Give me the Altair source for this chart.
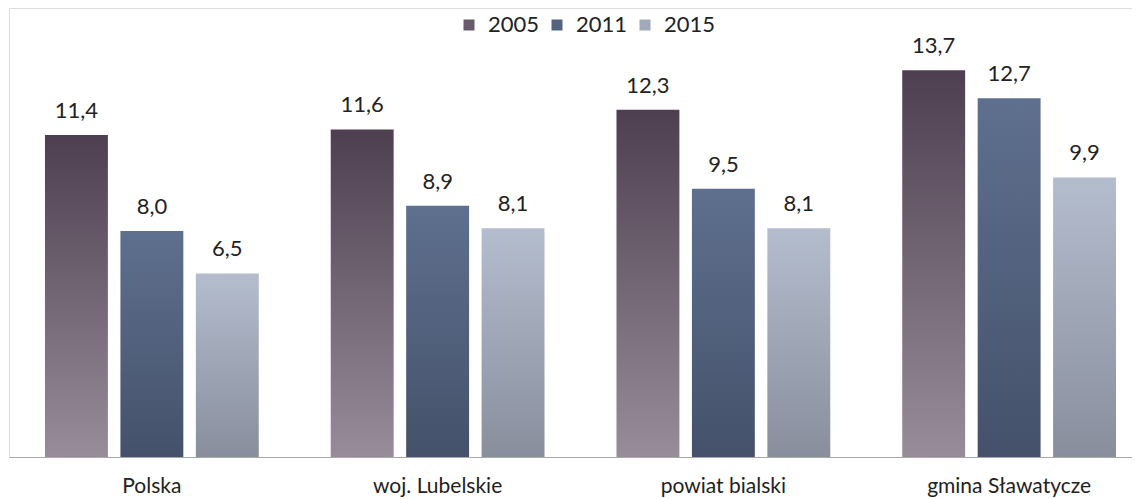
import altair as alt
import pandas as pd

categories = ["Polska", "woj. Lubelskie", "powiat bialski", "gmina Sławatycze"]
years = ["2005", "2011", "2015"]
v2005 = [11.4, 11.6, 12.3, 13.7]
v2011 = [8.0, 8.9, 9.5, 12.7]
v2015 = [6.5, 8.1, 8.1, 9.9]

rows = []
for yr, vals in zip(years, [v2005, v2011, v2015]):
    for c, v in zip(categories, vals):
        rows.append({"category": c, "year": yr, "value": v})
df = pd.DataFrame(rows)

grad_colors = {
    "2005": ("#4d3f4f", "#988b9a"),
    "2011": ("#5e708e", "#45516a"),
    "2015": ("#b4bdce", "#888e9c"),
}
legend_colors = ["#6a5b6c", "#536380", "#a1aab9"]

FONT = "Lato"

x_enc = alt.X("category:N", sort=categories,
              scale=alt.Scale(paddingInner=0, paddingOuter=0, range=[0, 1143]),
              axis=alt.Axis(title=None, labelAngle=0, ticks=False,
                            domainColor="#a8a8a8", domainWidth=1,
                            labelFontSize=21, labelFont=FONT, labelColor="#222222",
                            labelPadding=18))
xo_enc = alt.XOffset("year:N", sort=years,
                     scale=alt.Scale(domain=years, paddingInner=0.166, paddingOuter=0.477))
y_enc = alt.Y("value:Q", scale=alt.Scale(domain=[0, 15.9], nice=False, zero=True),
              axis=None)

base = alt.Chart(df)

legend_layer = base.mark_bar(opacity=0).encode(
    x=x_enc, xOffset=xo_enc, y=y_enc,
    color=alt.Color("year:N", sort=years,
                    scale=alt.Scale(domain=years, range=legend_colors),
                    legend=alt.Legend(title=None, orient="none", direction="horizontal",
                                      legendX=449, legendY=6,
                                      symbolType="square", symbolSize=121,
                                      symbolOpacity=1, symbolStrokeWidth=0,
                                      labelFontSize=22, labelFont=FONT,
                                      labelColor="#222222", labelOffset=8,
                                      columnPadding=6)),
)

layers = [legend_layer]
for yr in years:
    top, bottom = grad_colors[yr]
    g = alt.Gradient(gradient="linear",
                     stops=[alt.GradientStop(color=top, offset=0),
                            alt.GradientStop(color=bottom, offset=1)],
                     x1=0, x2=0, y1=0, y2=1)
    layers.append(
        base.transform_filter(alt.datum.year == yr)
        .mark_bar(color=g)
        .encode(x=x_enc, xOffset=xo_enc, y=y_enc)
    )

text_layer = base.transform_calculate(
    lbl="replace(format(datum.value, '.1f'), '.', ',')"
).mark_text(baseline="alphabetic", dy=-17, fontSize=22, font=FONT, color="#222222").encode(
    x=x_enc, xOffset=xo_enc, y=y_enc, text="lbl:N"
)
layers.append(text_layer)

chart = alt.layer(*layers).properties(
    width=1123, height=449,
    padding={"left": 1, "top": 0, "right": 0, "bottom": 46},
    autosize=alt.AutoSizeParams(type="none"),
).configure_view(stroke=None).configure(background="white")

chart.save("out.html", embed_options={"renderer": "svg", "actions": False})
